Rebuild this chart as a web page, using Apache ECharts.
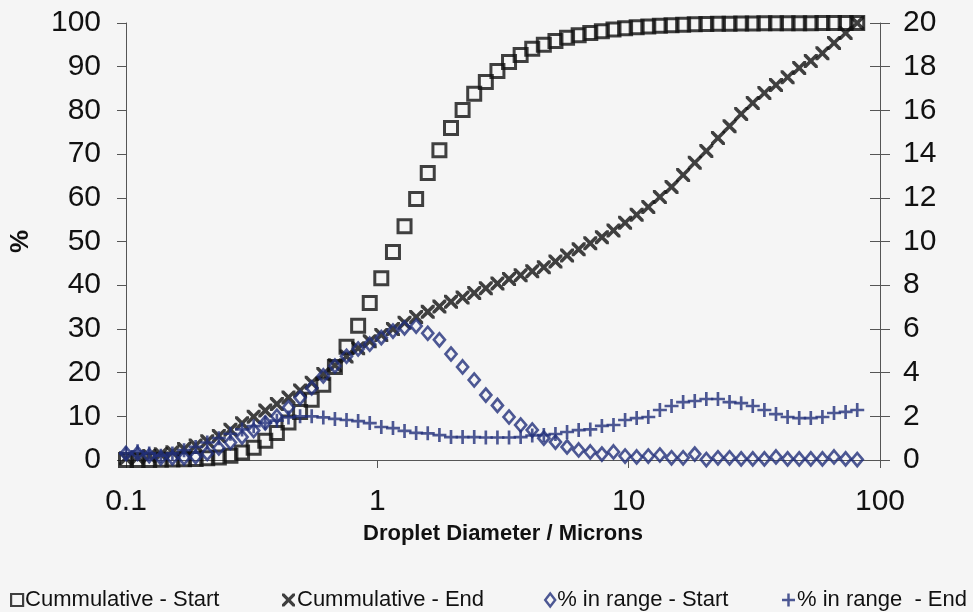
<!DOCTYPE html>
<html>
<head>
<meta charset="utf-8">
<script src="https://cdn.jsdelivr.net/npm/echarts@6/dist/echarts.min.js"></script>
<style>
  html, body { margin: 0; padding: 0; background: #f5f5f5; }
  #chart { width: 973px; height: 612px; }
</style>
</head>
<body>
<div id="chart"></div>
<script>
// Droplet diameters (microns)
const diameters = [
  0.1000, 0.1112, 0.1237, 0.1376, 0.1530, 0.1702, 0.1893, 0.2105, 0.2341, 0.2603,
  0.2896, 0.3221, 0.3582, 0.3984, 0.4431, 0.4928, 0.5481, 0.6096, 0.6780, 0.7541,
  0.8387, 0.9328, 1.037, 1.154, 1.283, 1.427, 1.587, 1.766, 1.964, 2.184,
  2.429, 2.702, 3.005, 3.342, 3.717, 4.134, 4.597, 5.113, 5.687, 6.325,
  7.035, 7.824, 8.702, 9.677, 10.76, 11.97, 13.31, 14.81, 16.47, 18.32,
  20.37, 22.66, 25.20, 28.03, 31.17, 34.67, 38.56, 42.89, 47.70, 53.05,
  59.00, 65.62, 72.98, 81.17
];
// Cumulative - Start (%), left axis
const cumStart = [
  0.0, 0.0, 0.0, 0.05, 0.1, 0.15, 0.25, 0.4, 0.6, 1.0,
  1.7, 2.8, 4.4, 6.2, 8.6, 11.0, 13.8, 17.2, 21.3, 25.9,
  30.7, 35.9, 41.6, 47.6, 53.5, 59.7, 65.7, 70.9, 76.0, 80.1,
  83.8, 86.5, 89.0, 91.1, 92.7, 94.1, 95.0, 95.9, 96.6, 97.2,
  97.7, 98.1, 98.5, 98.8, 99.0, 99.2, 99.35, 99.5, 99.6, 99.7,
  99.75, 99.8, 99.85, 99.9, 99.9, 99.92, 99.94, 99.95, 99.96, 99.97,
  99.98, 99.99, 100, 100
];
// Cumulative - End (%), left axis
const cumEnd = [
  0.4, 0.6, 0.9, 1.3, 1.8, 2.5, 3.3, 4.3, 5.5, 6.9,
  8.4, 9.9, 11.3, 12.8, 14.3, 15.9, 17.7, 19.7, 21.7, 23.7,
  25.6, 27.2, 28.6, 30.0, 31.4, 32.7, 33.9, 35.1, 36.2, 37.2,
  38.2, 39.3, 40.4, 41.4, 42.3, 43.2, 44.1, 45.4, 46.8, 48.2,
  49.6, 51.0, 52.5, 54.3, 56.1, 57.9, 60.2, 62.5, 65.2, 68.0,
  70.7, 73.7, 76.4, 79.2, 81.7, 84.0, 85.8, 87.6, 89.7, 91.3,
  93.1, 95.4, 97.7, 100
];
// % in range - Start, right axis
const rangeStart = [
  0.3, 0.3, 0.2, 0.1, 0.1, 0.1, 0.15, 0.3, 0.55, 0.8,
  1.05, 1.35, 1.7, 2.0, 2.4, 2.85, 3.3, 3.85, 4.3, 4.75,
  5.08, 5.3, 5.6, 5.9, 6.05, 6.13, 5.8, 5.5, 4.85, 4.26,
  3.66, 2.97, 2.5, 1.97, 1.6, 1.37, 1.0, 0.82, 0.6, 0.46,
  0.37, 0.27, 0.37, 0.18, 0.14, 0.18, 0.23, 0.1, 0.1, 0.27,
  0.02, 0.1, 0.1, 0.05, 0.05, 0.05, 0.14, 0.05, 0.05, 0.05,
  0.05, 0.14, 0.05, 0.02
];
// % in range - End, right axis
const rangeEnd = [
  0.3, 0.4, 0.3, 0.2, 0.3, 0.45, 0.6, 0.8, 1.0, 1.2,
  1.4, 1.55, 1.7, 1.8, 1.95, 2.0, 2.0, 1.95, 1.88, 1.83,
  1.78, 1.69, 1.51, 1.46, 1.33, 1.24, 1.22, 1.14, 1.05, 1.05,
  1.05, 1.03, 1.03, 1.03, 1.05, 1.12, 1.14, 1.19, 1.28, 1.37,
  1.4, 1.56, 1.6, 1.83, 1.92, 1.97, 2.29, 2.47, 2.65, 2.7,
  2.79, 2.79, 2.65, 2.6, 2.47, 2.29, 2.1, 1.97, 1.92, 1.92,
  1.97, 2.15, 2.2, 2.29
];
const seriesNames = ['Cummulative - Start', 'Cummulative - End', '% in range - Start', '% in range  - End'];
const xRange = [0.1, 100];
const leftRange = [0, 100, 10];
const rightRange = [0, 20, 2];

const pair = (ys) => diameters.map((d, i) => [d, ys[i]]);

const DARK = '#121212';
const NAVY = '#22307a';
const AXIS = '#555';
const X_PATH = 'path://M0,0 L3.6,0 L10,6.4 L16.4,0 L20,0 L20,3.6 L13.6,10 L20,16.4 L20,20 L16.4,20 L10,13.6 L3.6,20 L0,20 L0,16.4 L6.4,10 L0,3.6 Z';
const PLUS_PATH = 'path://M8.1,0 L11.9,0 L11.9,8.1 L20,8.1 L20,11.9 L11.9,11.9 L11.9,20 L8.1,20 L8.1,11.9 L0,11.9 L0,8.1 L8.1,8.1 Z';
const FONT = '"Liberation Sans", Arial, sans-serif';

const legendText = { fontSize: 22, color: '#111', fontFamily: FONT, padding: [0, 0, 0, -3] };

const chart = echarts.init(document.getElementById('chart'), null, { renderer: 'canvas' });
chart.setOption({
  backgroundColor: '#f5f5f5',
  animation: false,
  textStyle: { fontFamily: FONT, color: '#111' },
  grid: { left: 126, right: 93, top: 23, bottom: 152 },
  xAxis: {
    type: 'log', logBase: 10, min: xRange[0], max: xRange[1],
    axisLine: { lineStyle: { color: AXIS, width: 1 } },
    axisTick: { show: true, length: 8, lineStyle: { color: AXIS } },
    minorTick: { show: false },
    splitLine: { show: false },
    axisLabel: { fontSize: 30, color: '#111', margin: 27, fontFamily: FONT,
      formatter: (v) => String(parseFloat(Number(v).toPrecision(6))) },
    name: 'Droplet Diameter / Microns', nameLocation: 'middle', nameGap: 63,
    nameTextStyle: { fontWeight: 'bold', fontSize: 22, color: '#111', fontFamily: FONT }
  },
  yAxis: [
    {
      type: 'value', position: 'left', min: leftRange[0], max: leftRange[1], interval: leftRange[2],
      axisLine: { show: true, lineStyle: { color: AXIS } },
      axisTick: { show: true, length: 9, lineStyle: { color: AXIS } },
      splitLine: { show: false },
      axisLabel: { fontSize: 30, color: '#111', margin: 25, fontFamily: FONT },
      name: '%', nameLocation: 'middle', nameGap: 92, nameRotate: 90,
      nameTextStyle: { fontWeight: 'bold', fontSize: 26, color: '#111', fontFamily: FONT }
    },
    {
      type: 'value', position: 'right', min: rightRange[0], max: rightRange[1], interval: rightRange[2],
      axisLine: { show: true, lineStyle: { color: AXIS } },
      axisTick: { show: true, length: 10, lineStyle: { color: AXIS } },
      splitLine: { show: false },
      axisLabel: { fontSize: 30, color: '#111', margin: 23, fontFamily: FONT }
    },
    {
      type: 'value', position: 'right', min: rightRange[0], max: rightRange[1], interval: rightRange[2],
      axisLine: { show: false },
      axisTick: { show: true, inside: true, length: 10, lineStyle: { color: AXIS } },
      splitLine: { show: false },
      axisLabel: { show: false }
    }
  ],
  legend: [
    { data: [{ name: seriesNames[0], icon: 'rect' }], left: 5, top: 584, itemWidth: 12, itemHeight: 12,
      itemStyle: { color: 'rgba(0,0,0,0)', borderColor: DARK, borderWidth: 2.2 }, textStyle: legendText },
    { data: [{ name: seriesNames[1], icon: X_PATH }], left: 277, top: 584, itemWidth: 13, itemHeight: 15,
      itemStyle: { color: DARK, borderWidth: 0 }, textStyle: legendText },
    { data: [{ name: seriesNames[2], icon: 'diamond' }], left: 539, top: 584, itemWidth: 10, itemHeight: 13,
      itemStyle: { color: 'rgba(0,0,0,0)', borderColor: NAVY, borderWidth: 2.4 }, textStyle: legendText },
    { data: [{ name: seriesNames[3], icon: PLUS_PATH }], left: 777, top: 584, itemWidth: 13, itemHeight: 13,
      itemStyle: { color: NAVY, borderWidth: 0 }, textStyle: legendText }
  ],
  series: [
    {
      name: seriesNames[0], type: 'scatter', yAxisIndex: 0, data: pair(cumStart),
      symbol: 'rect', symbolSize: 13, z: 2,
      itemStyle: { color: 'rgba(0,0,0,0)', borderColor: DARK, borderWidth: 3 }
    },
    {
      name: seriesNames[1], type: 'scatter', yAxisIndex: 0, data: pair(cumEnd),
      symbol: X_PATH, symbolSize: 14, symbolKeepAspect: true, z: 3,
      itemStyle: { color: DARK, borderWidth: 0 }
    },
    {
      name: seriesNames[2], type: 'scatter', yAxisIndex: 1, data: pair(rangeStart),
      symbol: 'diamond', symbolSize: [11, 13], z: 4,
      itemStyle: { color: 'rgba(0,0,0,0)', borderColor: NAVY, borderWidth: 2.7 }
    },
    {
      name: seriesNames[3], type: 'scatter', yAxisIndex: 1, data: pair(rangeEnd),
      symbol: PLUS_PATH, symbolSize: 14, symbolKeepAspect: true, z: 5,
      itemStyle: { color: NAVY, borderWidth: 0 }
    }
  ]
});
</script>
</body>
</html>
